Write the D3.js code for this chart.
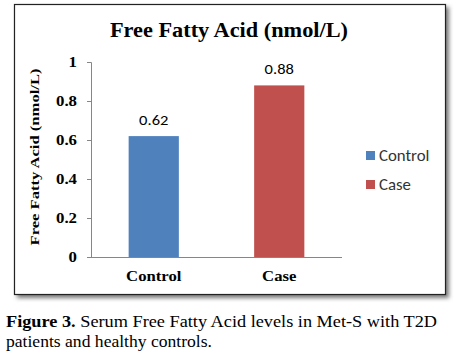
<!DOCTYPE html>
<html><head><meta charset="utf-8">
<script src="https://cdn.jsdelivr.net/npm/d3@7/dist/d3.min.js"></script>
<style>body{margin:0;background:#fff;}svg{display:block;}</style>
</head><body>
<svg id="c" width="454" height="360"></svg>
<script>
const categories = ["Control", "Case"];
const values = [0.62, 0.88];
const valueLabels = ["0.62", "0.88"];
const colors = ["#4F81BD", "#C0504D"];
const yTicks = [0, 0.2, 0.4, 0.6, 0.8, 1];
const yTickLabels = ["0", "0.2", "0.4", "0.6", "0.8", "1"];
const title = "Free Fatty Acid (nmol/L)";
const yTitle = "Free Fatty Acid (nmol/L)";

const svg = d3.select("#c");
const serif = "'Liberation Serif','Times New Roman',serif";
const sans = "Carlito,'Liberation Sans','DejaVu Sans',sans-serif";

// stretch text horizontally by a factor (reference uses wide bitmap rendering)
function stretch(sel, k) {
  sel.each(function() {
    const w = this.getComputedTextLength();
    d3.select(this).attr("textLength", w * k).attr("lengthAdjust", "spacingAndGlyphs");
  });
}

// shadow + frame
const defs = svg.append("defs");
const f = defs.append("filter").attr("id","sh").attr("x","-5%").attr("y","-5%").attr("width","115%").attr("height","115%");
f.append("feGaussianBlur").attr("stdDeviation",2);
svg.append("rect").attr("x",17).attr("y",7).attr("width",432).attr("height",291).attr("fill","#777").attr("filter","url(#sh)");
svg.append("rect").attr("x",14.5).attr("y",4.5).attr("width",431).attr("height",290).attr("fill","#fff").attr("stroke","#222").attr("stroke-width",1.2);

const x = d3.scaleBand().domain(categories).range([91, 342]).paddingInner(0.6).paddingOuter(0.3);
const y = d3.scaleLinear().domain([0, 1]).range([257, 62]);

svg.append("text").attr("x",229).attr("y",37).attr("text-anchor","middle")
  .attr("font-family",serif).attr("font-weight","bold").attr("font-size",21).text(title)
  .attr("textLength",238).attr("lengthAdjust","spacingAndGlyphs");

// y axis
const yAxis = d3.axisLeft(y).tickValues(yTicks).tickFormat((d,i)=>yTickLabels[i]).tickSize(4).tickPadding(10);
const ya = svg.append("g").attr("transform","translate(91,0)").call(yAxis);
ya.select(".domain").attr("stroke","#868686");
ya.selectAll(".tick line").attr("stroke","#868686");
ya.selectAll(".tick text").attr("font-family",serif).attr("font-weight","bold").attr("font-size",14).attr("fill","#000").attr("dy","0.35em")
  .call(stretch, 1.2);

// x axis
const xAxis = d3.axisBottom(x).tickSize(0).tickPadding(14);
const xa = svg.append("g").attr("transform","translate(0,257)").call(xAxis);
xa.select(".domain").attr("stroke","#868686").attr("d","M91,0.5H342");
xa.selectAll(".tick text").attr("font-family",serif).attr("font-weight","bold").attr("font-size",14.5).attr("fill","#000")
  .call(stretch, 1.15);

svg.selectAll(".bar").data(values).enter().append("rect")
  .attr("x",(d,i)=>x(categories[i])).attr("width",x.bandwidth())
  .attr("y",d=>y(d)).attr("height",d=>y(0)-y(d)).attr("fill",(d,i)=>colors[i]);

svg.selectAll(".vl").data(values).enter().append("text")
  .attr("x",(d,i)=>x(categories[i])+x.bandwidth()/2).attr("y",d=>y(d)-11)
  .attr("text-anchor","middle").attr("font-family",sans).attr("font-size",15).attr("fill","#000")
  .text((d,i)=>valueLabels[i]).call(stretch, 1.1);

// y title
svg.append("text").attr("transform","translate(38.5,157) rotate(-90)").attr("text-anchor","middle")
  .attr("font-family",serif).attr("font-weight","bold").attr("font-size",13).text(yTitle)
  .attr("textLength",177).attr("lengthAdjust","spacingAndGlyphs");

// legend
const lg = svg.selectAll(".lg").data(categories).enter().append("g")
  .attr("transform",(d,i)=>`translate(366,${151+i*29})`);
lg.append("rect").attr("width",9).attr("height",9).attr("fill",(d,i)=>colors[i]);
lg.append("text").attr("x",13).attr("y",9.5).attr("font-family",sans).attr("font-size",16).attr("fill","#333").text(d=>d)
  .call(stretch, 1.05);

// caption
const cap = svg.append("text").attr("x",6).attr("y",327).attr("font-family",serif).attr("font-size",17).attr("fill","#000")
  .attr("textLength",431).attr("lengthAdjust","spacingAndGlyphs");
cap.append("tspan").attr("font-weight","bold").text("Figure 3.");
cap.append("tspan").text(" Serum Free Fatty Acid levels in Met-S with T2D");
svg.append("text").attr("x",6).attr("y",347).attr("font-family",serif).attr("font-size",17).attr("fill","#000")
  .text("patients and healthy controls.").attr("textLength",206).attr("lengthAdjust","spacingAndGlyphs");
</script>
</body></html>
